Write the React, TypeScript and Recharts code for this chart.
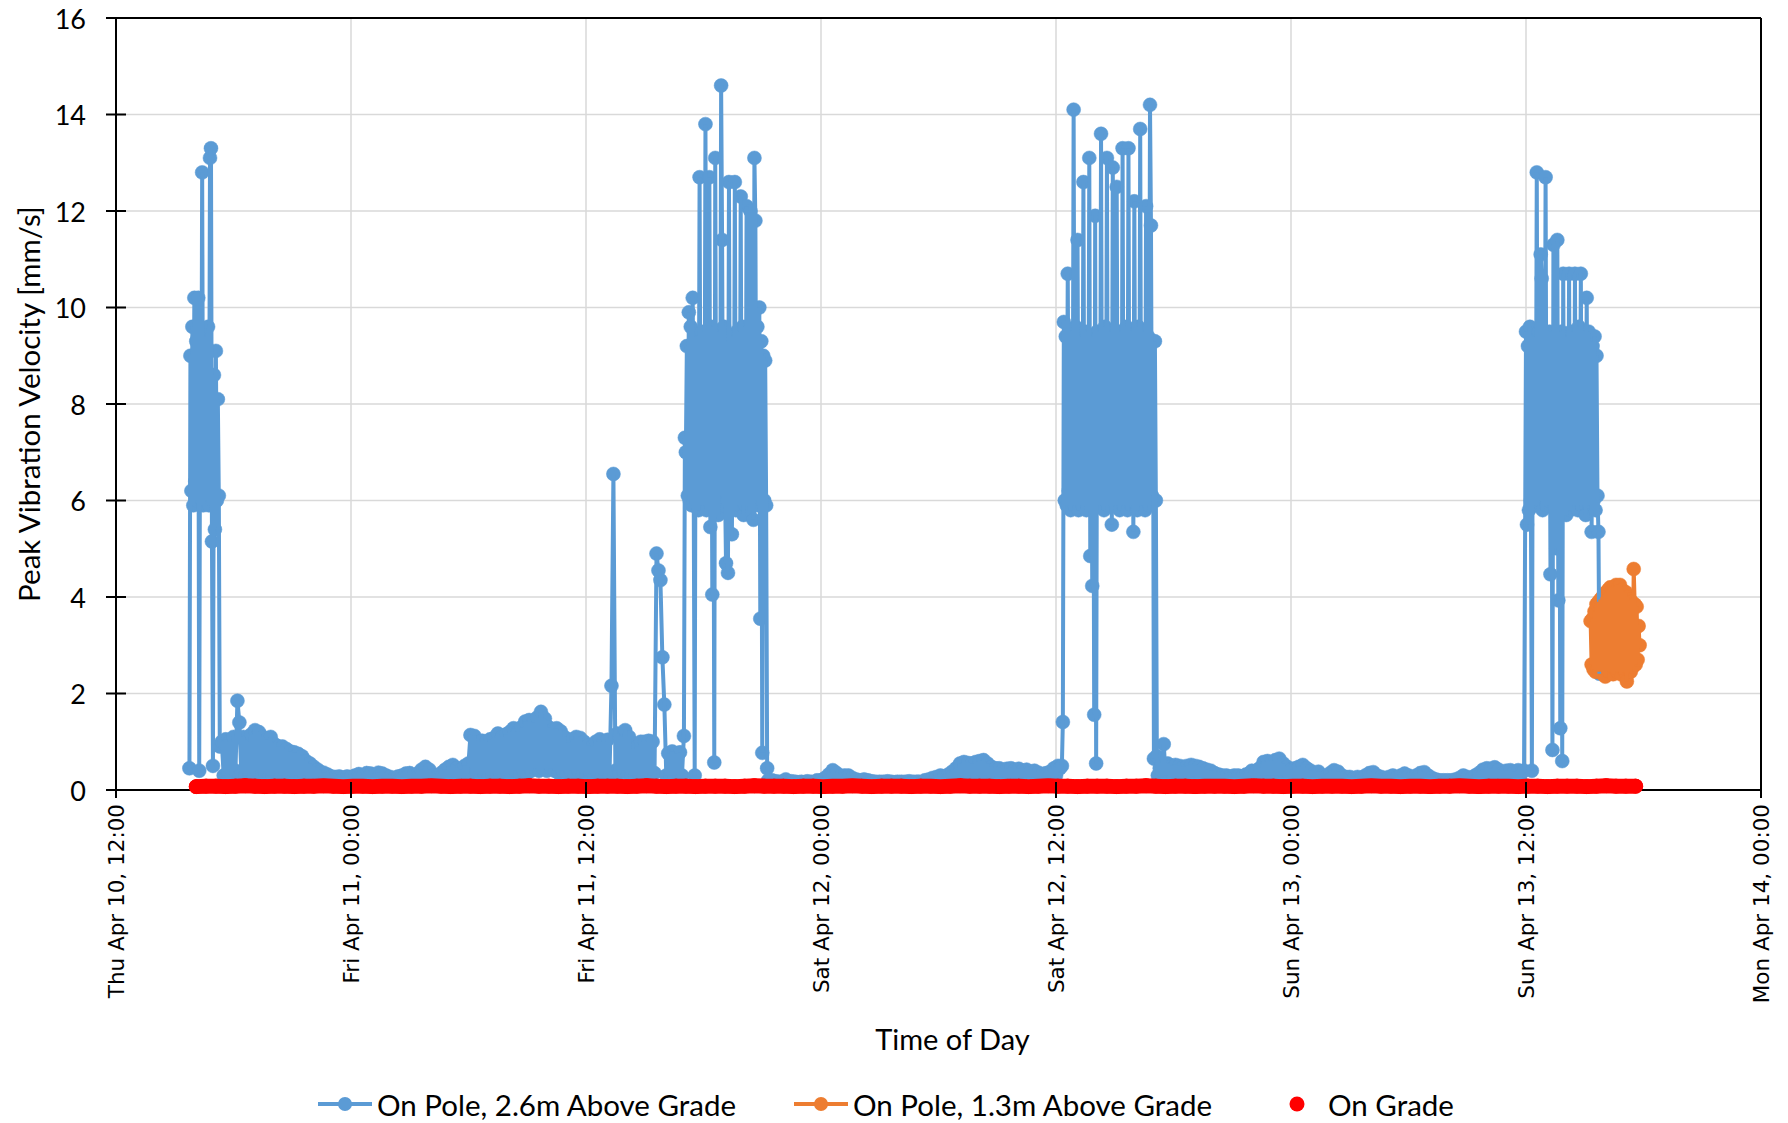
import React from "react";
import {
  ComposedChart,
  Line,
  XAxis,
  YAxis,
  CartesianGrid,
  ReferenceLine,
  Label,
} from "recharts";

const BLUE = "#5B9BD5";
const ORANGE = "#ED7D31";
const RED = "#FF0000";
const GRID = "#D9D9D9";

// x values are hours after Thu Apr 10, 12:00
const xTicks = [0, 12, 24, 36, 48, 60, 72, 84];
const xTickLabels = [
  "Thu Apr 10, 12:00",
  "Fri Apr 11, 00:00",
  "Fri Apr 11, 12:00",
  "Sat Apr 12, 00:00",
  "Sat Apr 12, 12:00",
  "Sun Apr 13, 00:00",
  "Sun Apr 13, 12:00",
  "Mon Apr 14, 00:00",
];
const yTicks = [0, 2, 4, 6, 8, 10, 12, 14, 16];

const QUIET_STEP = 0.1; // hours between readings, quiet periods
const BURST_STEP = 0.05; // hours between readings, busy periods
const GRADE_STEP = 0.5;

// On Pole, 2.6m Above Grade
const thuBurstStart = 3.75;
const thuBurst = [
  0.45, 9.0, 6.2, 9.6, 5.9,
  10.2, 6.4, 9.3, 6.0, 10.2, 0.4, 9.5, 6.1, 12.8, 5.9,
  9.4, 6.3, 9.2, 6.0, 9.6, 5.9, 13.1, 13.3, 5.15, 0.5,
  8.6, 5.4, 9.1, 6.0, 8.1, 6.1, 0.9,
];

const thuEveningStart = 5.4;
const thuEvening = [
  1.0, 0.3, 1.05, 0.35, 1.0, 0.3,
  1.1, 0.4, 1.85, 1.4, 0.35, 1.1, 0.3, 1.0, 0.35, 1.15,
  0.3, 1.24, 0.4, 1.2, 0.3, 1.1, 0.35, 1.05, 0.3, 1.1,
  0.3, 0.95, 0.35, 0.9, 0.3, 0.9, 0.25, 0.85, 0.3, 0.8,
  0.25, 0.78, 0.3, 0.75, 0.25, 0.7, 0.3, 0.6, 0.25, 0.55,
  0.25, 0.48, 0.2, 0.42,
];

const friMorningStart = 10.4;
const friMorning = [
  0.38, 0.2, 0.36, 0.2, 0.32, 0.2,
  0.28, 0.2, 0.27, 0.2, 0.28, 0.18, 0.26, 0.2, 0.28, 0.2,
  0.27, 0.2, 0.3, 0.2, 0.33, 0.2, 0.3, 0.2, 0.35, 0.2,
  0.34, 0.2, 0.3, 0.2, 0.36, 0.2, 0.34, 0.2, 0.3, 0.2,
  0.27, 0.2, 0.25, 0.2, 0.28, 0.2, 0.3, 0.2, 0.34, 0.2,
  0.35, 0.2, 0.3, 0.2, 0.34, 0.2, 0.42, 0.2, 0.48, 0.25,
  0.42, 0.2, 0.3, 0.2, 0.3, 0.2, 0.35, 0.2, 0.42, 0.2,
  0.48, 0.25, 0.52, 0.2, 0.45, 0.2, 0.42, 0.25, 0.5, 0.3,
  0.55, 1.14, 0.3, 1.12, 0.35, 1.0, 0.3, 1.02, 0.35, 1.0,
  0.3, 1.05, 0.35, 1.08, 0.3, 1.17, 0.35, 1.1, 0.3, 1.15,
  0.35, 1.2, 0.3, 1.28, 0.4, 1.2, 0.35, 1.3, 0.4, 1.42,
  0.35, 1.45, 0.4, 1.4, 0.45, 1.5, 0.4, 1.62, 0.45, 1.48,
  0.4, 1.3, 0.45, 1.25, 0.4, 1.28, 0.35, 1.22, 0.4, 1.1,
  0.35, 0.98, 0.4, 1.05, 0.35, 1.1, 0.4, 1.08, 0.35, 1.0,
  0.3, 0.92, 0.35, 0.9, 0.3, 1.0, 0.35, 1.05, 0.3, 1.0,
  0.35, 1.04, 0.3, 2.16, 6.55, 0.4, 1.17, 0.35, 1.1, 0.4,
  1.24, 0.35, 1.1, 0.3, 0.85, 0.3, 0.9, 0.35, 1.0, 0.3,
  1.0, 0.35, 1.02, 0.3, 1.0, 0.35, 4.9, 4.55, 4.35, 2.75,
  1.77, 0.3, 0.76, 0.3, 0.8, 0.3, 0.76, 0.35, 0.78, 0.3,
  1.12,
];

const friBurstStart = 29.05;
const friBurst = [
  7.3, 7.0, 9.2, 6.1, 9.9, 6.0, 9.6, 5.9, 10.2, 6.2,
  0.3, 9.4, 6.0, 9.3, 5.8, 12.7, 6.1, 9.5, 5.9, 9.2,
  6.2, 13.8, 5.8, 9.4, 6.0, 12.7, 5.45, 9.6, 4.05, 9.3,
  0.57, 13.1, 6.0, 9.5, 5.7, 9.2, 6.1, 14.6, 11.4, 5.9,
  9.6, 6.2, 4.7, 9.3, 4.5, 12.6, 6.0, 9.4, 5.3, 9.1,
  6.1, 12.6, 5.8, 9.5, 6.0, 9.3, 5.9, 12.3, 6.2, 9.6,
  5.7, 9.2, 5.9, 12.1, 6.0, 9.5, 5.8, 12.0, 6.1, 9.4,
  5.6, 13.1, 11.8, 6.0, 9.6, 5.9, 10.0, 3.55, 9.3, 0.77,
  9.0, 6.0, 8.9, 5.9, 0.45,
];

const friNightStart = 33.3;
const friNight = [
  0.2, 0.15, 0.2, 0.15, 0.18, 0.15, 0.17,
  0.16, 0.18, 0.22, 0.17, 0.15, 0.18, 0.16, 0.17, 0.15, 0.16,
  0.17, 0.15, 0.16, 0.18, 0.15, 0.17, 0.16, 0.15, 0.2, 0.18,
  0.2, 0.15, 0.25, 0.15, 0.32, 0.2, 0.41, 0.2, 0.35, 0.18,
  0.28, 0.18, 0.3, 0.17, 0.3, 0.2, 0.25, 0.17, 0.22, 0.16,
  0.2, 0.17, 0.22, 0.16, 0.2, 0.17, 0.18, 0.16, 0.17, 0.15,
  0.17, 0.16, 0.17, 0.15, 0.18, 0.16, 0.17, 0.15, 0.16, 0.17,
  0.16, 0.17, 0.15, 0.17, 0.16, 0.18, 0.15, 0.17, 0.16, 0.17,
  0.17, 0.15, 0.16, 0.2, 0.17, 0.22, 0.18, 0.25, 0.2, 0.27,
  0.22, 0.3, 0.2, 0.28, 0.22, 0.32, 0.25, 0.38, 0.22, 0.45,
  0.25, 0.55, 0.28, 0.58, 0.25, 0.56, 0.3, 0.55, 0.25, 0.58,
  0.3, 0.6, 0.25, 0.62, 0.3, 0.55, 0.25, 0.48, 0.3, 0.45,
  0.25, 0.45, 0.3, 0.42, 0.25, 0.44, 0.3, 0.45, 0.25, 0.42,
  0.3, 0.44, 0.25, 0.4, 0.3, 0.42, 0.25, 0.38, 0.3, 0.4,
  0.25, 0.36, 0.2, 0.33, 0.25, 0.35, 0.2, 0.38, 0.25, 0.45,
  0.3, 0.5, 0.45,
];

const satBurstStart = 48.3;
const satBurst = [
  0.5, 1.41, 9.7, 6.0, 9.4, 5.9, 10.7, 6.2, 9.5, 5.8,
  9.3, 6.1, 14.1, 5.9, 9.6, 6.0, 11.4, 5.8, 9.4, 6.2,
  9.3, 5.9, 12.6, 6.0, 9.5, 5.8, 9.2, 6.1, 13.1, 4.85,
  9.4, 4.23, 9.3, 1.56, 11.9, 0.55, 9.5, 6.0, 9.3, 5.9,
  13.6, 6.2, 9.4, 5.8, 9.6, 6.0, 13.1, 5.9, 9.3, 6.1,
  9.5, 5.5, 12.9, 6.0, 9.4, 5.9, 12.5, 6.2, 9.3, 5.8,
  9.5, 6.0, 13.3, 5.9, 9.4, 6.1, 9.6, 5.8, 13.3, 6.0,
  9.3, 5.9, 9.5, 5.35, 12.2, 6.1, 9.4, 5.8, 9.6, 6.0,
  13.7, 5.9, 9.3, 6.2, 9.5, 5.8, 12.1, 6.0, 9.4, 5.9,
  14.2, 11.7, 6.1, 9.3, 0.65, 9.3, 6.0, 0.7,
];

const satNightStart = 53.2;
const satNight = [
  0.3, 0.45, 0.3, 0.95, 0.3, 0.55, 0.25, 0.5,
  0.25, 0.52, 0.28, 0.5, 0.25, 0.48, 0.3, 0.5, 0.25, 0.52,
  0.28, 0.5, 0.25, 0.48, 0.25, 0.45, 0.2, 0.42, 0.25, 0.4,
  0.2, 0.35, 0.2, 0.32, 0.2, 0.3, 0.2, 0.3, 0.18, 0.28,
  0.2, 0.3, 0.18, 0.3, 0.2, 0.28, 0.2, 0.32, 0.22, 0.35,
  0.4, 0.22, 0.38, 0.25, 0.45, 0.3, 0.58, 0.3, 0.6, 0.3,
  0.58, 0.3, 0.62, 0.3, 0.65, 0.3, 0.55, 0.25, 0.48, 0.25,
  0.42, 0.2, 0.45, 0.25, 0.48, 0.25, 0.52, 0.25, 0.45, 0.2,
  0.4, 0.2, 0.35, 0.2, 0.38, 0.2, 0.3, 0.2, 0.28, 0.2,
  0.35, 0.2, 0.41, 0.22, 0.38, 0.2, 0.3, 0.18, 0.27, 0.2,
  0.27, 0.18, 0.25, 0.2, 0.27, 0.18, 0.25, 0.2, 0.3, 0.2,
  0.35, 0.2, 0.37, 0.2, 0.3, 0.18, 0.27, 0.2, 0.25, 0.18,
  0.27, 0.2, 0.3, 0.18, 0.26, 0.2, 0.3, 0.2, 0.34, 0.2,
  0.3, 0.18, 0.27, 0.2, 0.3, 0.2, 0.35, 0.2, 0.37, 0.2,
  0.3, 0.18, 0.25, 0.17, 0.22, 0.17, 0.2, 0.16, 0.2, 0.17,
  0.2, 0.16, 0.2, 0.17, 0.22, 0.17, 0.25, 0.18, 0.3, 0.2,
  0.27, 0.18, 0.25, 0.2, 0.3, 0.2, 0.35, 0.2, 0.42, 0.25,
  0.45, 0.25, 0.44, 0.25, 0.47, 0.25, 0.42, 0.22, 0.35, 0.2,
  0.4, 0.2, 0.41, 0.22, 0.38, 0.2, 0.41, 0.22, 0.38, 0.4,
];

const sunBurstStart = 72.0;
const sunBurst = [
  9.5, 5.5, 9.2, 5.8, 9.6, 6.0, 0.4, 9.4, 5.9, 9.3,
  6.1, 12.8, 5.9, 9.5, 6.0, 11.1, 10.6, 5.8, 9.4, 6.2,
  12.7, 5.9, 9.3, 6.0, 9.5, 4.47, 9.2, 0.83, 11.3, 5.9,
  9.4, 5.01, 11.4, 3.93, 9.3, 1.28, 9.5, 0.6, 10.7, 6.0,
  9.4, 5.7, 9.2, 6.1, 10.7, 5.8, 9.5, 6.0, 9.3, 5.9,
  10.7, 6.2, 9.4, 5.8, 9.6, 6.0, 10.7, 5.9, 9.3, 6.1,
  9.5, 5.7, 10.2, 6.0, 9.5, 5.9, 9.3, 5.35, 9.2, 6.0,
  9.4, 5.8, 9.0, 6.1, 5.35, 2.41,
];

// On Pole, 1.3m Above Grade
const pole13Start = 75.3;
const pole13 = [
  3.5, 2.6, 3.55, 2.5, 3.7, 2.45, 3.85, 2.5, 3.9, 2.45,
  3.95, 2.5, 4.0, 2.4, 4.05, 2.35, 4.1, 2.5, 4.15, 2.45,
  4.2, 2.5, 4.15, 2.4, 4.2, 2.5, 4.25, 2.45, 4.2, 2.5,
  4.25, 2.4, 4.15, 2.5, 4.1, 2.45, 4.1, 2.25, 4.0, 2.5,
  3.95, 2.45, 3.9, 2.55, 4.58, 3.85, 2.6, 3.8, 2.7, 3.4, 3.0,
];

// On Grade
const gradeStart = 4.1;
const grade = [
  0.07, 0.08, 0.08, 0.07, 0.08, 0.09, 0.08, 0.07, 0.08, 0.08, 0.07, 0.08, 0.08, 0.09, 0.08, 0.07, 0.08, 0.08, 0.07, 0.08,
  0.08, 0.07, 0.08, 0.08, 0.09, 0.08, 0.07, 0.08, 0.08, 0.07, 0.08, 0.08, 0.07, 0.08, 0.09, 0.08, 0.08, 0.07, 0.08, 0.08,
  0.07, 0.08, 0.08, 0.08, 0.07, 0.08, 0.09, 0.08, 0.07, 0.08, 0.08, 0.07, 0.08, 0.08, 0.08, 0.07, 0.08, 0.09, 0.08, 0.08,
  0.08, 0.07, 0.08, 0.08, 0.07, 0.08, 0.08, 0.09, 0.08, 0.07, 0.08, 0.08, 0.08, 0.07, 0.08, 0.08, 0.07, 0.08, 0.09, 0.08,
  0.08, 0.08, 0.07, 0.08, 0.08, 0.07, 0.08, 0.09, 0.08, 0.08, 0.07, 0.08, 0.08, 0.08, 0.07, 0.08, 0.08, 0.09, 0.08, 0.07,
  0.08, 0.08, 0.07, 0.08, 0.08, 0.08, 0.07, 0.08, 0.09, 0.08, 0.08, 0.07, 0.08, 0.08, 0.07, 0.08, 0.08, 0.08, 0.07, 0.08,
  0.09, 0.08, 0.08, 0.07, 0.08, 0.08, 0.07, 0.08, 0.08, 0.09, 0.08, 0.07, 0.08, 0.08, 0.08, 0.07, 0.08, 0.08, 0.07, 0.08,
  0.08, 0.08, 0.07, 0.08, 0.09, 0.08, 0.08, 0.08,
];

const toPoints = (start: number, step: number, values: number[]) =>
  values.map((v, i) => ({ t: Math.round((start + i * step) * 100) / 100, v }));

const pole26Data = [
  ...toPoints(thuBurstStart, BURST_STEP, thuBurst),
  ...toPoints(thuEveningStart, QUIET_STEP, thuEvening),
  ...toPoints(friMorningStart, QUIET_STEP, friMorning),
  ...toPoints(friBurstStart, BURST_STEP, friBurst),
  ...toPoints(friNightStart, QUIET_STEP, friNight),
  ...toPoints(satBurstStart, BURST_STEP, satBurst),
  ...toPoints(satNightStart, QUIET_STEP, satNight),
  ...toPoints(sunBurstStart, BURST_STEP, sunBurst),
];
const pole13Data = toPoints(pole13Start, BURST_STEP, pole13);
const gradeData = toPoints(gradeStart, GRADE_STEP, grade);

const XTick = (props: any) => {
  const { x, y, payload } = props;
  const label = xTickLabels[xTicks.indexOf(payload.value)];
  return (
    <g>
      <line x1={x} x2={x} y1={y - 8} y2={y + 8} stroke="#000" strokeWidth={2} />
      <text
        transform={`translate(${x}, ${y + 14}) rotate(-90)`}
        textAnchor="end"
        dominantBaseline="central"
        fontFamily="DejaVu Sans"
        fontSize={21.5}
        fill="#000"
      >
        {label}
      </text>
    </g>
  );
};

const YTick = (props: any) => {
  const { x, y, payload } = props;
  return (
    <g>
      <line x1={x - 10} x2={x + 10} y1={y} y2={y} stroke="#000" strokeWidth={2} />
      <text
        x={x - 30}
        y={y}
        textAnchor="end"
        dominantBaseline="central"
        fontFamily="Lato"
        fontSize={27}
        fill="#000"
      >
        {payload.value}
      </text>
    </g>
  );
};

const YTitle = (props: any) => {
  const { viewBox } = props;
  const cx = viewBox.x + 28;
  const cy = viewBox.y + viewBox.height / 2;
  return (
    <text
      transform={`translate(${cx}, ${cy}) rotate(-90)`}
      textAnchor="middle"
      dominantBaseline="central"
      fontFamily="Lato"
      fontSize={29.5}
      fill="#000"
    >
      Peak Vibration Velocity [mm/s]
    </text>
  );
};

const XTitle = (props: any) => {
  const { viewBox } = props;
  return (
    <text
      x={viewBox.x + viewBox.width / 2 + 14}
      y={viewBox.y + 248}
      textAnchor="middle"
      dominantBaseline="central"
      fontFamily="Lato"
      fontSize={29}
      fill="#000"
    >
      Time of Day
    </text>
  );
};

const legendText: React.CSSProperties = {
  position: "absolute",
  top: 1104,
  transform: "translateY(-50%)",
  fontFamily: "Lato",
  fontSize: 29.5,
  color: "#000",
  whiteSpace: "nowrap",
};

const LineIcon = ({ color, left }: { color: string; left: number }) => (
  <svg
    width={54}
    height={16}
    style={{ position: "absolute", left, top: 1096 }}
  >
    <line x1={0} x2={54} y1={8} y2={8} stroke={color} strokeWidth={4} />
    <circle cx={27} cy={8} r={7} fill={color} />
  </svg>
);

export default function App() {
  return (
    <div style={{ position: "relative", width: 1788, height: 1123, background: "#fff" }}>
      <style>{"body { margin: 0; }"}</style>
      <ComposedChart
        width={1788}
        height={1123}
        margin={{ top: 18, right: 27, bottom: 113, left: 0 }}
      >
        <CartesianGrid stroke={GRID} strokeWidth={1.5} />
        <XAxis
          type="number"
          dataKey="t"
          domain={[0, 84]}
          ticks={xTicks}
          interval={0}
          height={220}
          tickSize={0}
          tickMargin={0}
          tickLine={false}
          tick={XTick}
          axisLine={{ stroke: "#000", strokeWidth: 2 }}
        >
          <Label content={XTitle} />
        </XAxis>
        <YAxis
          type="number"
          domain={[0, 16]}
          ticks={yTicks}
          interval={0}
          width={116}
          tickSize={0}
          tickMargin={0}
          tickLine={false}
          tick={YTick}
          axisLine={{ stroke: "#000", strokeWidth: 2 }}
        >
          <Label content={YTitle} />
        </YAxis>
        <ReferenceLine y={16} stroke="#000" strokeWidth={2} />
        <ReferenceLine x={84} stroke="#000" strokeWidth={2} />
        <Line
          data={pole26Data}
          dataKey="v"
          name="On Pole, 2.6m Above Grade"
          type="linear"
          stroke={BLUE}
          strokeWidth={4}
          dot={{ r: 7, fill: BLUE, stroke: BLUE, strokeWidth: 0.5 }}
          activeDot={false}
          isAnimationActive={false}
          zIndex={610}
        />
        <Line
          data={pole13Data}
          dataKey="v"
          name="On Pole, 1.3m Above Grade"
          type="linear"
          stroke={ORANGE}
          strokeWidth={4}
          dot={{ r: 7, fill: ORANGE, stroke: ORANGE, strokeWidth: 0.5 }}
          activeDot={false}
          isAnimationActive={false}
          zIndex={620}
        />
        <Line
          data={gradeData}
          dataKey="v"
          name="On Grade"
          type="linear"
          stroke={RED}
          strokeWidth={15}
          strokeLinecap="round"
          strokeLinejoin="round"
          dot={{ r: 7, fill: RED, stroke: RED, strokeWidth: 1 }}
          activeDot={false}
          isAnimationActive={false}
          zIndex={630}
        />
      </ComposedChart>

      {/* Legend */}
      <LineIcon color={BLUE} left={318} />
      <span style={{ ...legendText, left: 377 }}>On Pole, 2.6m Above Grade</span>
      <LineIcon color={ORANGE} left={794} />
      <span style={{ ...legendText, left: 853 }}>On Pole, 1.3m Above Grade</span>
      <svg width={16} height={16} style={{ position: "absolute", left: 1289, top: 1096 }}>
        <circle cx={8} cy={8} r={7.5} fill={RED} />
      </svg>
      <span style={{ ...legendText, left: 1328 }}>On Grade</span>
    </div>
  );
}
